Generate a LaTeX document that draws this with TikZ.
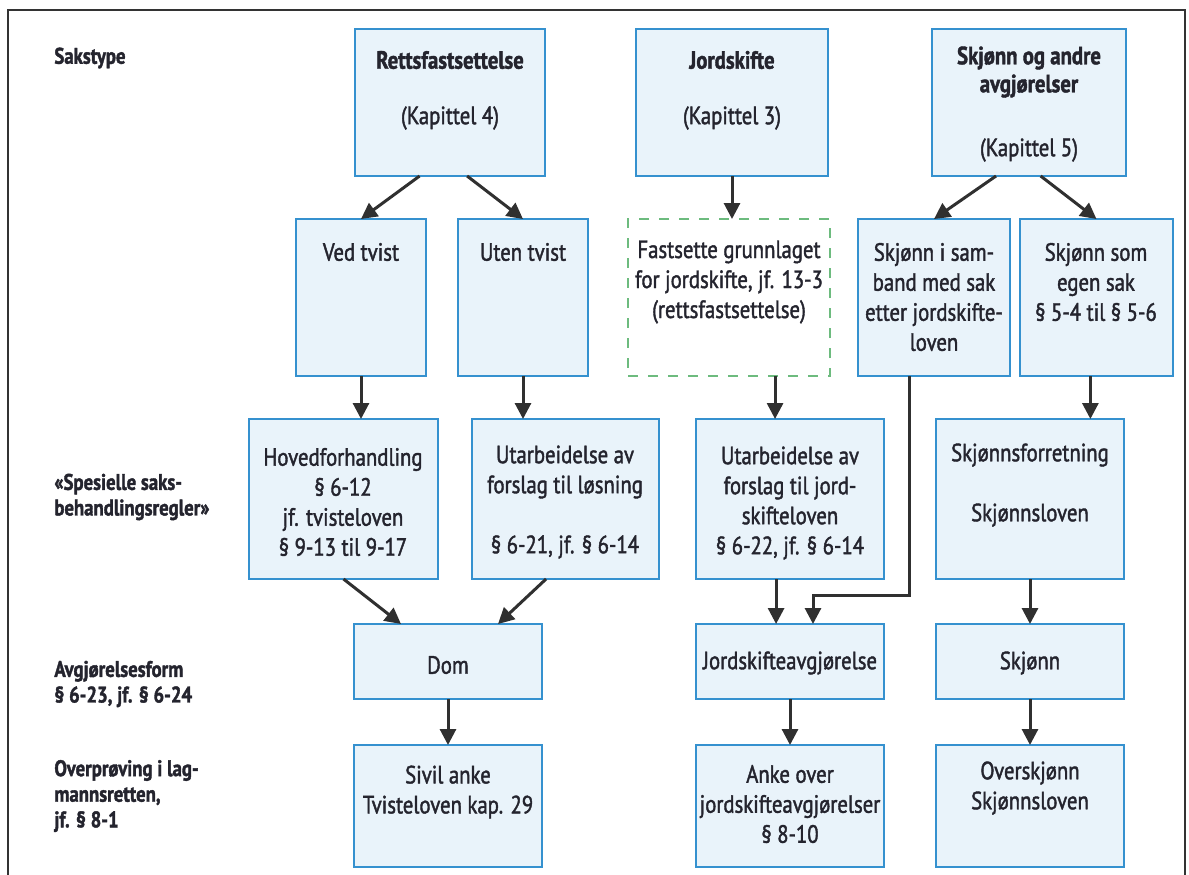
\documentclass[tikz,border=0pt]{standalone}
\usepackage{fontspec}
\setmainfont{PT Sans}[FakeStretch=0.83, FakeBold=1.6]
\usetikzlibrary{arrows.meta,fit,calc}
\definecolor{boxfill}{HTML}{E9F3FA}
\definecolor{boxline}{HTML}{3591CF}
\definecolor{dashgreen}{HTML}{6DBB7E}
\definecolor{txtcol}{HTML}{24242E}
\definecolor{arrcol}{HTML}{303030}
\begin{document}
\begin{tikzpicture}[x=0.5pt,y=-0.5pt,
  box/.style={draw=boxline, fill=boxfill, line width=1.1pt, inner sep=0pt, outer sep=0pt},
  dbox/.style={draw=dashgreen, line width=1.1pt, dash pattern=on 5pt off 5pt, inner sep=0pt, outer sep=0pt},
  txt/.style={text=txtcol, align=center, inner sep=0pt, font=\fontsize{12.5}{15}\selectfont},
  ttl/.style={txt, font=\fontsize{12.5}{14}\selectfont\bfseries},
  lbl/.style={text=txtcol, align=left, anchor=west, inner sep=0pt, font=\fontsize{11.3}{12.8}\selectfont\bfseries},
  arr/.style={draw=arrcol, line width=1.5pt, -{Triangle[length=8pt,width=8pt]}},
  frame/.style={draw=black!80, line width=1.4pt}]
\useasboundingbox (0,0) rectangle (1189,874);
\draw[frame] (8,880) -- (8,10) -- (1185,10) -- (1185,880);

% left labels
\node[lbl] (sak) at (54,58) {Sakstype};
\node[lbl] (spes) at (54,497) {«Spesielle saks-\\behandlingsregler»};
\node[lbl] (avg) at (54,684) {Avgjørelsesform\\§ 6-23, jf. § 6-24};
\node[lbl] (overp) at (54,796) {Overprøving i lag-\\mannsretten,\\jf. § 8-1};

% row 1
\node[box, fit={(355,29) (545,176)}] (rett) {};
\node[box, fit={(636,29) (828,176)}] (jord) {};
\node[box, fit={(932,29) (1126,176)}] (skj) {};
\node[ttl] (rett-a) at (450,60) {Rettsfastsettelse};
\node[txt] (rett-b) at (450,118) {(Kapittel 4)};
\node[ttl] (jord-a) at (732,60) {Jordskifte};
\node[txt] (jord-b) at (732,118) {(Kapittel 3)};
\node[ttl] (skj-a) at (1029,72) {Skjønn og andre\\avgjørelser};
\node[txt] (skj-b) at (1029,150) {(Kapittel 5)};

% row 2
\node[box, fit={(296,219) (426,376)}] (ved) {};
\node[box, fit={(458,219) (588,376)}] (uten) {};
\node[dbox, fit={(628,219) (830,376)}] (fast) {};
\node[box, fit={(858,219) (1010,376)}] (samb) {};
\node[box, fit={(1020,219) (1173,376)}] (som) {};
\node[txt] (ved-t) at (361,252) {Ved tvist};
\node[txt] (uten-t) at (523,252) {Uten tvist};
\node[txt] (fast-t) at (729,282) {Fastsette grunnlaget\\for jordskifte, jf. 13-3\\(rettsfastsettelse)};
\node[txt] (samb-t) at (934,297) {Skjønn i sam-\\band med sak\\etter jordskifte-\\loven};
\node[txt] (som-t) at (1096,282) {Skjønn som\\egen sak\\§ 5-4 til § 5-6};

% row 3
\node[box, fit={(249,419) (438,579)}] (hoved) {};
\node[box, fit={(472,419) (659,579)}] (utarb) {};
\node[box, fit={(696,419) (884,579)}] (uj) {};
\node[box, fit={(936,419) (1124,579)}] (sf) {};
\node[txt] (hoved-t) at (343,502) {Hovedforhandling\\§ 6-12\\jf. tvisteloven\\§ 9-13 til 9-17};
\node[txt] (utarb-t) at (565,502) {Utarbeidelse av\\forslag til løsning\\\mbox{}\\§ 6-21, jf. § 6-14};
\node[txt] (uj-t) at (790,503) {Utarbeidelse av\\forslag til jord-\\skifteloven\\§ 6-22, jf. § 6-14};
\node[txt] (sf-t) at (1030,485) {Skjønnsforretning\\\mbox{}\\Skjønnsloven};

% row 4
\node[box, fit={(354,624) (542,699)}] (dom) {};
\node[box, fit={(696,624) (884,699)}] (jav) {};
\node[box, fit={(936,624) (1124,699)}] (skjn) {};
\node[txt] (dom-t) at (448,665) {Dom};
\node[txt] (jav-t) at (790,663) {Jordskifteavgjørelse};
\node[txt] (skjn-t) at (1030,663) {Skjønn};

% row 5
\node[box, fit={(354,745) (542,867)}] (siv) {};
\node[box, fit={(696,745) (884,867)}] (anke) {};
\node[box, fit={(936,745) (1124,867)}] (over) {};
\node[txt] (siv-t) at (448,792) {Sivil anke\\Tvisteloven kap. 29};
\node[txt] (anke-t) at (790,804) {Anke over\\jordskifteavgjørelser\\§ 8-10};
\node[txt] (over-t) at (1030,788) {Overskjønn\\Skjønnsloven};

% connectors
\draw[arr] ($(rett.south west)!0.34!(rett.south east)$) -- (ved.north);
\draw[arr] ($(rett.south west)!0.59!(rett.south east)$) -- (uten.north);
\draw[arr] (jord.south) -- (jord.south |- fast.north);
\draw[arr] ($(skj.south west)!0.33!(skj.south east)$) -- (samb.north);
\draw[arr] ($(skj.south west)!0.56!(skj.south east)$) -- (som.north);

\draw[arr] (ved.south) -- (ved.south |- hoved.north);
\draw[arr] (uten.south) -- (uten.south |- utarb.north);
\coordinate (fastout) at ($(fast.south west)!0.728!(fast.south east)$);
\draw[arr] (fastout) -- (fastout |- uj.north);
\coordinate (somout) at ($(som.south west)!0.46!(som.south east)$);
\draw[arr] (somout) -- (somout |- sf.north);

\draw[arr] (hoved.south) -- ($(dom.north west)!0.25!(dom.north east)$);
\draw[arr] ($(utarb.south west)!0.396!(utarb.south east)$) -- ($(dom.north west)!0.766!(dom.north east)$);
\coordinate (ujout) at ($(uj.south west)!0.426!(uj.south east)$);
\draw[arr] (ujout) -- (ujout |- jav.north);
\coordinate (sambout) at ($(samb.south west)!0.342!(samb.south east)$);
\coordinate (bend) at (813,595);
\draw[arr] (sambout) |- (bend) -- (bend |- jav.north);
\draw[arr] (sf.south) -- (skjn.north);

\draw[arr] (dom.south) -- (siv.north);
\draw[arr] (jav.south) -- (anke.north);
\draw[arr] (skjn.south) -- (over.north);
\end{tikzpicture}
\end{document}
